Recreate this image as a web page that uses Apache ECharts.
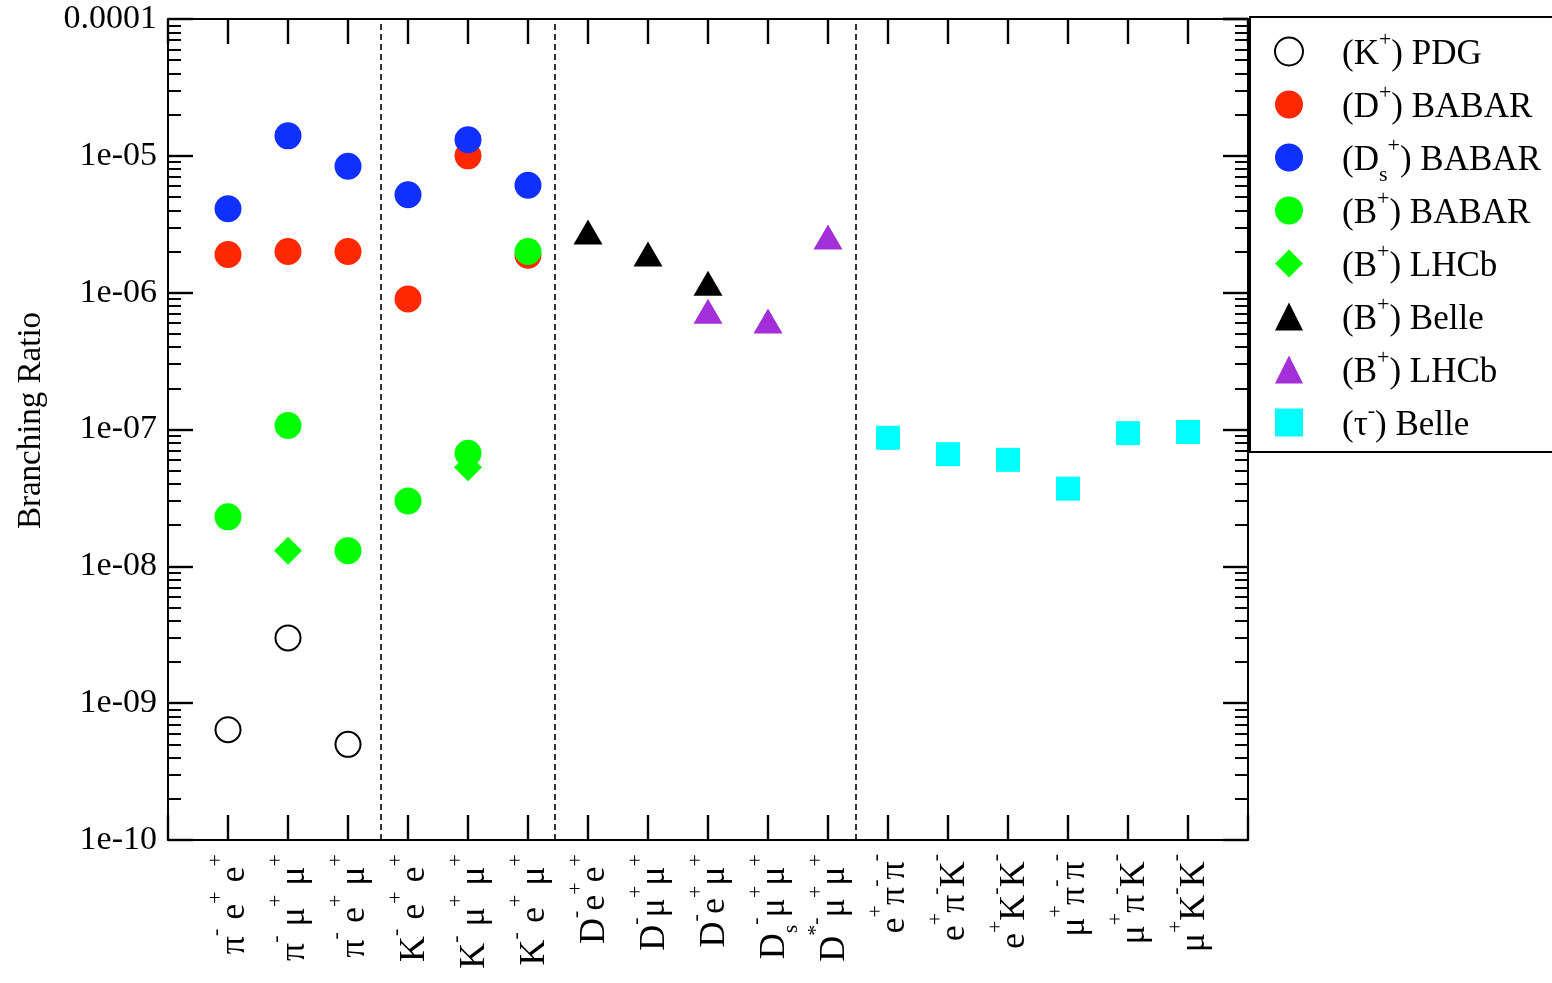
<!DOCTYPE html>
<html><head><meta charset="utf-8">
<script src="https://cdn.jsdelivr.net/npm/echarts@6/dist/echarts.min.js"></script>
<style>html,body{margin:0;padding:0;background:#fff}#c{width:1552px;height:983px}</style>
</head><body><div id="c"></div>
<script>
// ---- data ----
const categoryLabels = [
  '{m|π}{p|-}{m| e}{p|+}{m| e}{p|+}',
  '{m|π}{p|-}{m| μ}{p|+}{m| μ}{p|+}',
  '{m|π}{p|-}{m| e}{p|+}{m| μ}{p|+}',
  '{m|K}{p|-}{m| e}{p|+}{m| e}{p|+}',
  '{m|K}{p|-}{m| μ}{p|+}{m| μ}{p|+}',
  '{m|K}{p|-}{m| e}{p|+}{m| μ}{p|+}',
  '{m|D}{p|-}{m|e}{p|+}{m|e}{p|+}',
  '{m|D}{p|-}{m|μ}{p|+}{m|μ}{p|+}',
  '{m|D}{p|-}{m|e}{p|+}{m|μ}{p|+}',
  '{m|D}{s|s}{p|-}{m|μ}{p|+}{m|μ}{p|+}',
  '{m|D}{p|*-}{m|μ}{p|+}{m|μ}{p|+}',
  '{m|e}{p|+}{m|π}{p|-}{m|π}{p|-}',
  '{m|e}{p|+}{m|π}{p|-}{m|K}{p|-}',
  '{m|e}{p|+}{m|K}{p|-}{m|K}{p|-}',
  '{m|μ}{p|+}{m|π}{p|-}{m|π}{p|-}',
  '{m|μ}{p|+}{m|π}{p|-}{m|K}{p|-}',
  '{m|μ}{p|+}{m|K}{p|-}{m|K}{p|-}'
];
const yTickLabels = ['1e-10','1e-09','1e-08','1e-07','1e-06','1e-05','0.0001'];
const dividers = [3.55, 6.45, 11.47];

const kPDG      = [6.4e-10, 3.0e-9, 5.0e-10, null, null, null, null, null, null, null, null, null, null, null, null, null, null];
const dBABAR    = [1.9e-6, 2.0e-6, 2.0e-6, 9.0e-7, 1.0e-5, 1.88e-6, null, null, null, null, null, null, null, null, null, null, null];
const dsBABAR   = [4.1e-6, 1.4e-5, 8.4e-6, 5.2e-6, 1.31e-5, 6.1e-6, null, null, null, null, null, null, null, null, null, null, null];
const bBABAR    = [2.3e-8, 1.07e-7, 1.3e-8, 3.0e-8, 6.7e-8, 2.0e-6, null, null, null, null, null, null, null, null, null, null, null];
const bLHCbDia  = [null, 1.3e-8, null, null, 5.3e-8, null, null, null, null, null, null, null, null, null, null, null, null];
const bBelle    = [null, null, null, null, null, null, 2.78e-6, 1.92e-6, 1.17e-6, null, null, null, null, null, null, null, null];
const bLHCbTri  = [null, null, null, null, null, null, null, null, 7.3e-7, 6.2e-7, 2.55e-6, null, null, null, null, null, null];
const tauBelle  = [null, null, null, null, null, null, null, null, null, null, null, 8.7e-8, 6.6e-8, 6.0e-8, 3.7e-8, 9.4e-8, 9.6e-8];

const seriesNames = ['kPDG','dBABAR','dsBABAR','bBABAR','bLHCbDia','bBelle','bLHCbTri','tauBelle'];
const legendLabels = {
  kPDG:     '{sp|}{m|(K}{p|+}{m|) PDG}',
  dBABAR:   '{sp|}{m|(D}{p|+}{m|) BABAR}',
  dsBABAR:  '{sp|}{m|(D}{s|s}{p|+}{m|) BABAR}',
  bBABAR:   '{sp|}{m|(B}{p|+}{m|) BABAR}',
  bLHCbDia: '{sp|}{m|(B}{p|+}{m|) LHCb}',
  bBelle:   '{sp|}{m|(B}{p|+}{m|) Belle}',
  bLHCbTri: '{sp|}{m|(B}{p|+}{m|) LHCb}',
  tauBelle: '{sp|}{m|(τ}{p|-}{m|) Belle}'
};

// ---- helpers ----
const FONT = 'Liberation Serif';
function toPoints(arr) {
  const out = [];
  arr.forEach((v, i) => { if (v != null) out.push([i + 1, v]); });
  return out;
}
const minorTickPositions = [];
for (let n = -10; n < -4; n++) {
  for (let k = 2; k <= 9; k++) minorTickPositions.push(n + Math.log10(k));
}
const black = '#000';
const axisLine = { show: true, onZero: false, lineStyle: { color: black, width: 2 } };
const majorTick = { show: true, inside: true, length: 25, lineStyle: { color: black, width: 2.4 } };
const minorTick = { show: true, inside: true, length: 13, customValues: minorTickPositions, lineStyle: { color: black, width: 2 } };

const XL = 68;
const xRich = {
  m: { fontFamily: FONT, fontSize: 36, color: black, verticalAlign: 'top', lineHeight: XL, padding: [23, 0, 0, 0] },
  p: { fontFamily: FONT, fontSize: 22, color: black, verticalAlign: 'top', lineHeight: XL, padding: [11, 0, 0, 0] },
  s: { fontFamily: FONT, fontSize: 22, color: black, verticalAlign: 'top', lineHeight: XL, padding: [46, 0, 0, 0] }
};
const LL = 57;
const lRich = {
  sp: { width: 34, lineHeight: LL },
  m: { fontFamily: FONT, fontSize: 35, color: black, verticalAlign: 'top', lineHeight: LL, padding: [14.5, 0, 0, 0] },
  p: { fontFamily: FONT, fontSize: 22, color: black, verticalAlign: 'top', lineHeight: LL, padding: [6, 0, 0, 0] },
  s: { fontFamily: FONT, fontSize: 22, color: black, verticalAlign: 'top', lineHeight: LL, padding: [35, 0, 0, 0] }
};

function xAxisDef(pos, labels) {
  return {
    type: 'value', position: pos, min: 0, max: 18, interval: 1,
    axisLine: axisLine, axisTick: majorTick, splitLine: { show: false },
    axisLabel: labels ? {
      show: true, rotate: 90, margin: 14, lineHeight: XL,
      formatter: v => categoryLabels[Math.round(v) - 1] || '',
      rich: xRich
    } : { show: false }
  };
}
function yLogDef(pos, labels) {
  return {
    type: 'log', logBase: 10, min: 1e-10, max: 1e-4, interval: 1, position: pos,
    axisLine: axisLine, axisTick: majorTick, splitLine: { show: false },
    axisLabel: labels ? {
      show: true, margin: 11, fontFamily: FONT, fontSize: 34, color: black,
      formatter: v => yTickLabels[Math.round(Math.log10(v)) + 10]
    } : { show: false },
    name: labels ? 'Branching Ratio' : '',
    nameLocation: 'middle', nameGap: 120, nameRotate: 90,
    nameTextStyle: { fontFamily: FONT, fontSize: 33, color: black, padding: [0, 0, 0, 18] }
  };
}
function yMinorDef(pos) {
  return {
    type: 'value', min: -10, max: -4, position: pos,
    axisLine: { show: false, onZero: false }, axisTick: minorTick,
    axisLabel: { show: false }, splitLine: { show: false }
  };
}

const styles = {
  kPDG:     { symbol: 'circle', symbolSize: 25, itemStyle: { color: '#ffffff', borderColor: black, borderWidth: 2, opacity: 1 } },
  dBABAR:   { symbol: 'circle', symbolSize: 27, itemStyle: { color: '#ff2800', opacity: 1 } },
  dsBABAR:  { symbol: 'circle', symbolSize: 27, itemStyle: { color: '#1030ff', opacity: 1 } },
  bBABAR:   { symbol: 'circle', symbolSize: 27, itemStyle: { color: '#00ff00', opacity: 1 } },
  bLHCbDia: { symbol: 'diamond', symbolSize: 28, itemStyle: { color: '#00ff00', opacity: 1 } },
  bBelle:   { symbol: 'triangle', symbolSize: [29, 25], itemStyle: { color: '#000000', opacity: 1 } },
  bLHCbTri: { symbol: 'triangle', symbolSize: [29, 25], itemStyle: { color: '#a32fd8', opacity: 1 } },
  tauBelle: { symbol: 'rect', symbolSize: 24, itemStyle: { color: '#00ffff', opacity: 1 } }
};
const dataMap = { kPDG, dBABAR, dsBABAR, bBABAR, bLHCbDia, bBelle, bLHCbTri, tauBelle };

const series = seriesNames.map((name, i) => Object.assign({
  name: name, type: 'scatter', xAxisIndex: 0, yAxisIndex: 0,
  data: toPoints(dataMap[name]), z: 3 + i,
  emphasis: { disabled: true }
}, styles[name]));
series[0].markLine = {
  silent: true, symbol: ['none', 'none'], label: { show: false },
  lineStyle: { color: black, width: 1.6, type: [6, 4], opacity: 1 },
  emphasis: { disabled: true },
  data: dividers.map(x => ({ xAxis: x }))
};

const chart = echarts.init(document.getElementById('c'), null, { renderer: 'canvas' });
chart.setOption({
  animation: false,
  backgroundColor: '#fff',
  textStyle: { fontFamily: FONT },
  grid: { left: 168, right: 304, top: 19, bottom: 143, containLabel: false, outerBoundsMode: 'none' },
  xAxis: [xAxisDef('bottom', true), xAxisDef('top', false)],
  yAxis: [yLogDef('left', true), yMinorDef('left'), yLogDef('right', false), yMinorDef('right')],
  legend: {
    show: true, orient: 'vertical', left: 1250, top: 17,
    padding: [6, 40, 1, 24], itemWidth: 28, itemHeight: 28, itemGap: -4,
    borderColor: black, borderWidth: 2, backgroundColor: '#fff',
    selectedMode: false,
    data: seriesNames,
    formatter: name => legendLabels[name],
    textStyle: { fontFamily: FONT, fontSize: 35, color: black, lineHeight: LL, rich: lRich }
  },
  series: series
});
</script></body></html>
